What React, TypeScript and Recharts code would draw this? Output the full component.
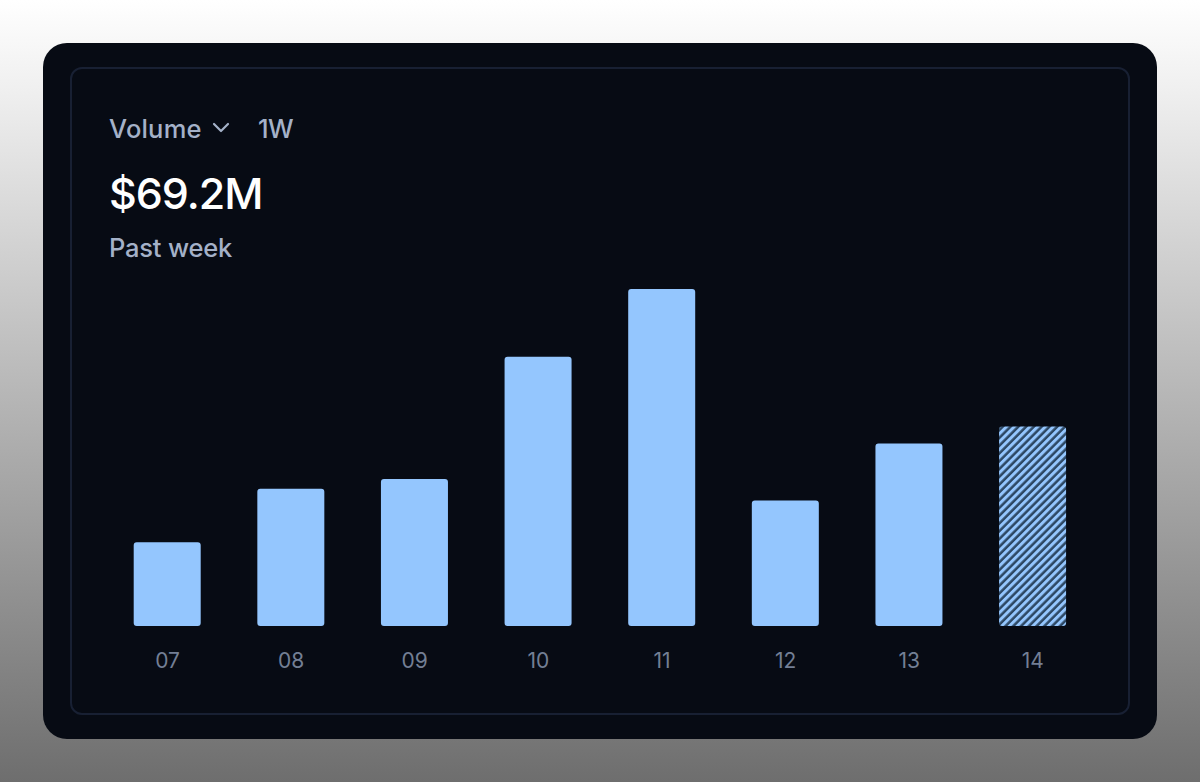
import { BarChart, Bar, XAxis, YAxis, Cell } from "recharts";

// ── Data ──────────────────────────────────────────────────────────
const days = ["07", "08", "09", "10", "11", "12", "13", "14"];
const volumes = [3.9, 6.4, 6.85, 12.55, 15.7, 5.85, 8.5, 9.3]; // $M
const partialDay = "14"; // current day, drawn hatched

const rows = days.map((day, i) => ({ day, volume: volumes[i] }));

const FONT = "Inter, 'Noto Sans', sans-serif";
const BAR = "#94c6fe";
const MUTED = "#a4b1c8";

export default function App() {
  return (
    <div
      style={{
        position: "fixed",
        inset: 0,
        width: 1200,
        height: 782,
        overflow: "hidden",
        fontFamily: FONT,
        background: "linear-gradient(180deg, #ffffff 0%, #f0f0f0 11%, #6e6e6e 100%)",
      }}
    >
      {/* outer card */}
      <div
        style={{
          position: "absolute", left: 43, top: 43, width: 1114, height: 696,
          background: "#070b14", borderRadius: 24,
        }}
      />
      {/* inner outline */}
      <div
        style={{
          position: "absolute", left: 70, top: 67, width: 1060, height: 648,
          boxSizing: "border-box", border: "2px solid #182033", borderRadius: 12,
        }}
      />

      {/* header */}
      <div style={{ position: "absolute", left: 109, top: 113, height: 32, lineHeight: "32px", fontSize: 25.5, letterSpacing: 0.2, fontWeight: 450, color: MUTED, whiteSpace: "nowrap" }}>
        Volume
      </div>
      <svg style={{ position: "absolute", left: 212, top: 122 }} width={18} height={12} viewBox="0 0 18 12">
        <path d="M2 2 L9 9 L16 2" fill="none" stroke={MUTED} strokeWidth={2.2} strokeLinecap="round" strokeLinejoin="round" />
      </svg>
      <div style={{ position: "absolute", left: 258, top: 113, height: 32, lineHeight: "32px", fontSize: 25.5, letterSpacing: -0.5, fontWeight: 450, color: MUTED }}>
        1W
      </div>
      <div style={{ position: "absolute", left: 109, top: 168, height: 50, lineHeight: "50px", fontSize: 43, letterSpacing: -1, fontWeight: 500, color: "#ffffff", whiteSpace: "nowrap" }}>
        $69.2M
      </div>
      <div style={{ position: "absolute", left: 109, top: 232, height: 32, lineHeight: "32px", fontSize: 25.5, letterSpacing: -0.2, fontWeight: 450, color: MUTED, whiteSpace: "nowrap" }}>
        Past week
      </div>

      <div style={{ position: "absolute", left: 0, top: 0 }}>
        <BarChart
          width={1200}
          height={782}
          data={rows}
          margin={{ top: 282.6, right: 105.3, bottom: 0, left: 105.7 }}
        >
          <defs>
            <pattern id="hatch" width={5.5} height={5.5} patternUnits="userSpaceOnUse" patternTransform="rotate(-45)">
              <rect width={5.5} height={5.5} fill="#2c4763" />
              <rect width={5.5} height={3} fill={BAR} />
            </pattern>
          </defs>
          <XAxis
            dataKey="day"
            height={156}
            axisLine={false}
            tickLine={false}
            tickMargin={21}
            interval={0}
            tick={{ fill: "#737f94", fontSize: 21, fontFamily: FONT }}
          />
          <YAxis hide domain={[0, 16]} />
          <Bar dataKey="volume" barSize={67} radius={3} isAnimationActive={false}>
            {rows.map(r => (
              <Cell key={r.day} fill={r.day === partialDay ? "url(#hatch)" : BAR} />
            ))}
          </Bar>
        </BarChart>
      </div>
    </div>
  );
}
